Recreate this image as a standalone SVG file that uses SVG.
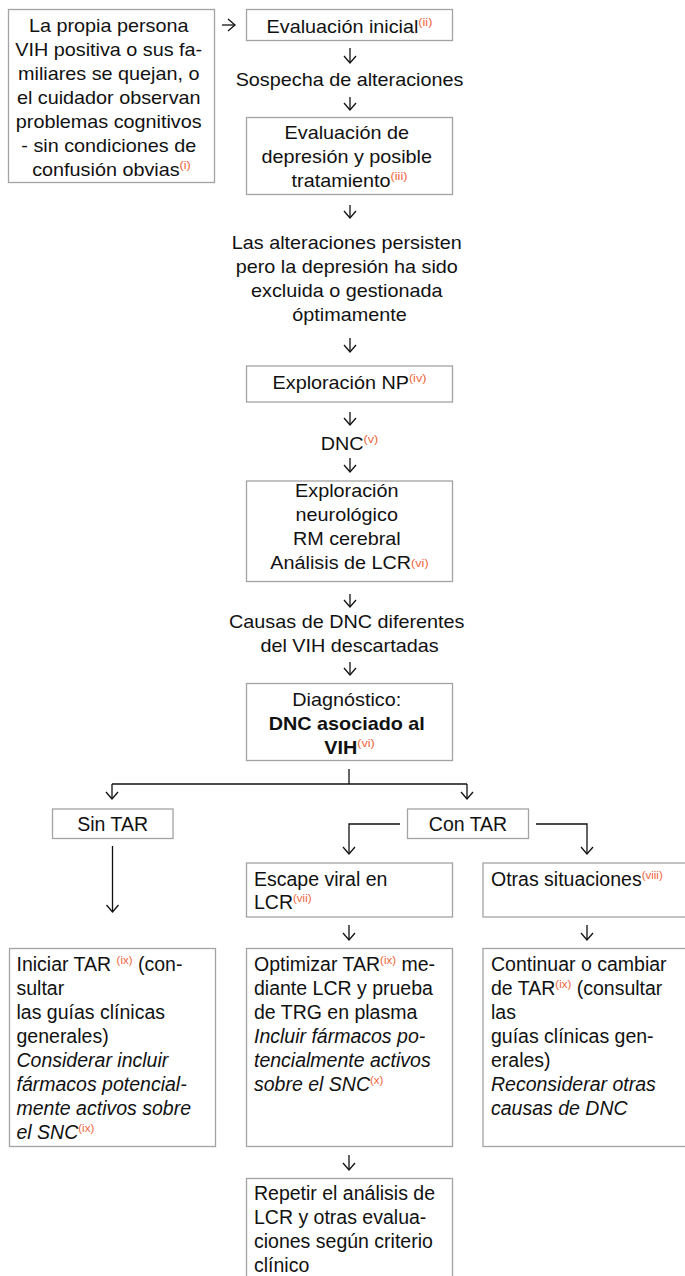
<svg xmlns="http://www.w3.org/2000/svg" width="685" height="1276" viewBox="0 0 685 1276">
  <defs>
    <style>
      .box{fill:#fff;stroke:#a3a3a3;stroke-width:1.3}
      .t{font-family:"Liberation Sans",Arial,Helvetica,sans-serif;font-size:18px;fill:#111}
      .c{text-anchor:middle}
      .lo{font-size:19.5px}
      .sup{font-size:11.5px;fill:#f0643a;font-style:normal;font-weight:normal}
      .i{font-style:italic}
      .bd{font-weight:bold}
      .conn path{fill:none;stroke:#111;stroke-width:1.3}
    </style>
    <marker id="chev" markerUnits="userSpaceOnUse" markerWidth="16" markerHeight="16" viewBox="-8 -8 16 16" refX="0" refY="0" orient="auto" overflow="visible">
      <path d="M-7,-6 L0,0 L-7,6" fill="none" stroke="#111" stroke-width="1.3"/>
    </marker>
  </defs>
  <rect width="685" height="1276" fill="#fff"/>

  <!-- connectors -->
  <g id="connectors" class="conn">
    <path d="M222,25 H235" marker-end="url(#chev)"/>
    <path d="M350,48 V63" marker-end="url(#chev)"/>
    <path d="M350,97 V110" marker-end="url(#chev)"/>
    <path d="M350,205 V218" marker-end="url(#chev)"/>
    <path d="M350,338 V352" marker-end="url(#chev)"/>
    <path d="M350,412 V425" marker-end="url(#chev)"/>
    <path d="M350,458 V472" marker-end="url(#chev)"/>
    <path d="M350,594 V607" marker-end="url(#chev)"/>
    <path d="M350,662 V675" marker-end="url(#chev)"/>
    <path d="M349,769 V784"/>
    <path d="M112,784 H467"/>
    <path d="M112,784 V799" marker-end="url(#chev)"/>
    <path d="M467,784 V799" marker-end="url(#chev)"/>
    <path d="M400,824 H349 V854" marker-end="url(#chev)"/>
    <path d="M536,824 H587 V854" marker-end="url(#chev)"/>
    <path d="M112.5,846 V912" marker-end="url(#chev)"/>
    <path d="M349,925 V940" marker-end="url(#chev)"/>
    <path d="M587,925 V940" marker-end="url(#chev)"/>
    <path d="M349,1155 V1170" marker-end="url(#chev)"/>
  </g>

  <g id="n-queja">
    <rect class="box" x="8.5" y="9.5" width="206" height="173"/>
    <text class="t c" transform="translate(111.5 32) scale(1.1 1)">
      <tspan x="0" y="0">La propia persona</tspan>
      <tspan x="0" y="24">VIH positiva o sus fa-</tspan>
      <tspan x="0" y="48">miliares se quejan, o</tspan>
      <tspan x="0" y="72">el cuidador observan</tspan>
      <tspan x="0" y="96">problemas cognitivos</tspan>
      <tspan x="0" y="120">- sin condiciones de</tspan>
      <tspan x="0" y="144">confusión obvias<tspan class="sup" dy="-7">(i)</tspan></tspan>
    </text>
  </g>

  <g id="n-eval-inicial">
    <rect class="box" x="246.5" y="9.5" width="206" height="31"/>
    <text class="t c" transform="translate(349.5 33) scale(1.1 1)">Evaluación inicial<tspan class="sup" dy="-7">(ii)</tspan></text>
  </g>

  <g id="n-sospecha">
    <text class="t c" transform="translate(349.5 86) scale(1.1 1)">Sospecha de alteraciones</text>
  </g>

  <g id="n-depresion">
    <rect class="box" x="246.5" y="117.5" width="206" height="77"/>
    <text class="t c" transform="translate(349.5 139) scale(1.1 1)">
      <tspan x="0" y="0">Evaluación de</tspan>
      <tspan x="0" y="24">depresión y posible</tspan>
      <tspan x="0" y="48">tratamiento<tspan class="sup" dy="-7">(iii)</tspan></tspan>
    </text>
  </g>

  <g id="n-persisten">
    <text class="t c" transform="translate(349.5 249) scale(1.1 1)">
      <tspan x="0" y="0">Las alteraciones persisten</tspan>
      <tspan x="0" y="24">pero la depresión ha sido</tspan>
      <tspan x="0" y="48">excluida o gestionada</tspan>
      <tspan x="0" y="72">óptimamente</tspan>
    </text>
  </g>

  <g id="n-np">
    <rect class="box" x="246.5" y="366" width="206" height="36"/>
    <text class="t c" transform="translate(349.5 389) scale(1.1 1)">Exploración NP<tspan class="sup" dy="-7">(iv)</tspan></text>
  </g>

  <g id="n-dnc">
    <text class="t c" transform="translate(349.5 450) scale(1.1 1)">DNC<tspan class="sup" dy="-7">(v)</tspan></text>
  </g>

  <g id="n-exploracion">
    <rect class="box" x="246.5" y="481" width="206" height="100.5"/>
    <text class="t c" transform="translate(349.5 497) scale(1.1 1)">
      <tspan x="0" y="0">Exploración</tspan>
      <tspan x="0" y="24">neurológico</tspan>
      <tspan x="0" y="48">RM cerebral</tspan>
      <tspan x="0" y="72">Análisis de LCR<tspan class="sup" dy="-2">(vi)</tspan></tspan>
    </text>
  </g>

  <g id="n-causas">
    <text class="t c" transform="translate(349.5 628) scale(1.1 1)">
      <tspan x="0" y="0">Causas de DNC diferentes</tspan>
      <tspan x="0" y="24">del VIH descartadas</tspan>
    </text>
  </g>

  <g id="n-diagnostico">
    <rect class="box" x="246.5" y="683.5" width="206" height="77"/>
    <text class="t c" transform="translate(349.5 706) scale(1.1 1)">
      <tspan x="0" y="0">Diagnóstico:</tspan>
      <tspan x="0" y="24" class="bd">DNC asociado al</tspan>
      <tspan x="0" y="48" class="bd">VIH<tspan class="sup" dy="-7">(vi)</tspan></tspan>
    </text>
  </g>

  <g id="n-sin-tar">
    <rect class="box" x="52.5" y="809" width="120.5" height="29.5"/>
    <text class="t lo c" x="112.7" y="831">Sin TAR</text>
  </g>

  <g id="n-con-tar">
    <rect class="box" x="407.5" y="809" width="121" height="29.5"/>
    <text class="t lo c" x="468" y="831">Con TAR</text>
  </g>

  <g id="n-escape">
    <rect class="box" x="246.5" y="863" width="206" height="54"/>
    <text class="t lo">
      <tspan x="254" y="886">Escape viral en</tspan>
      <tspan x="254" y="909">LCR<tspan class="sup" dy="-7">(vii)</tspan></tspan>
    </text>
  </g>

  <g id="n-otras">
    <rect class="box" x="483" y="863" width="210" height="54"/>
    <text class="t lo" x="491" y="886">Otras situaciones<tspan class="sup" dy="-7">(viii)</tspan></text>
  </g>

  <g id="n-iniciar">
    <rect class="box" x="9.5" y="948.5" width="206" height="198"/>
    <text class="t lo">
      <tspan x="16.5" y="971">Iniciar TAR <tspan class="sup" dy="-7">(ix)</tspan><tspan dy="7"> (con-</tspan></tspan>
      <tspan x="16.5" y="995">sultar</tspan>
      <tspan x="16.5" y="1019">las guías clínicas</tspan>
      <tspan x="16.5" y="1043">generales)</tspan>
      <tspan x="16.5" y="1067" class="i">Considerar incluir</tspan>
      <tspan x="16.5" y="1091" class="i">fármacos potencial-</tspan>
      <tspan x="16.5" y="1115" class="i">mente activos sobre</tspan>
      <tspan x="16.5" y="1139" class="i">el SNC<tspan class="sup" dy="-7">(ix)</tspan></tspan>
    </text>
  </g>

  <g id="n-optimizar">
    <rect class="box" x="246.5" y="948.5" width="206" height="198"/>
    <text class="t lo">
      <tspan x="254" y="971">Optimizar TAR<tspan class="sup" dy="-7">(ix)</tspan><tspan dy="7"> me-</tspan></tspan>
      <tspan x="254" y="995">diante LCR y prueba</tspan>
      <tspan x="254" y="1019">de TRG en plasma</tspan>
      <tspan x="254" y="1043" class="i">Incluir fármacos po-</tspan>
      <tspan x="254" y="1067" class="i">tencialmente activos</tspan>
      <tspan x="254" y="1091" class="i">sobre el SNC<tspan class="sup" dy="-7">(x)</tspan></tspan>
    </text>
  </g>

  <g id="n-continuar">
    <rect class="box" x="483" y="948.5" width="210" height="198"/>
    <text class="t lo">
      <tspan x="491" y="971">Continuar o cambiar</tspan>
      <tspan x="491" y="995">de TAR<tspan class="sup" dy="-7">(ix)</tspan><tspan dy="7"> (consultar</tspan></tspan>
      <tspan x="491" y="1019">las</tspan>
      <tspan x="491" y="1043">guías clínicas gen-</tspan>
      <tspan x="491" y="1067">erales)</tspan>
      <tspan x="491" y="1091" class="i">Reconsiderar otras</tspan>
      <tspan x="491" y="1115" class="i">causas de DNC</tspan>
    </text>
  </g>

  <g id="n-repetir">
    <rect class="box" x="246.5" y="1178.5" width="206" height="110"/>
    <text class="t lo">
      <tspan x="254" y="1200">Repetir el análisis de</tspan>
      <tspan x="254" y="1224">LCR y otras evalua-</tspan>
      <tspan x="254" y="1248">ciones según criterio</tspan>
      <tspan x="254" y="1272">clínico</tspan>
    </text>
  </g>
</svg>
